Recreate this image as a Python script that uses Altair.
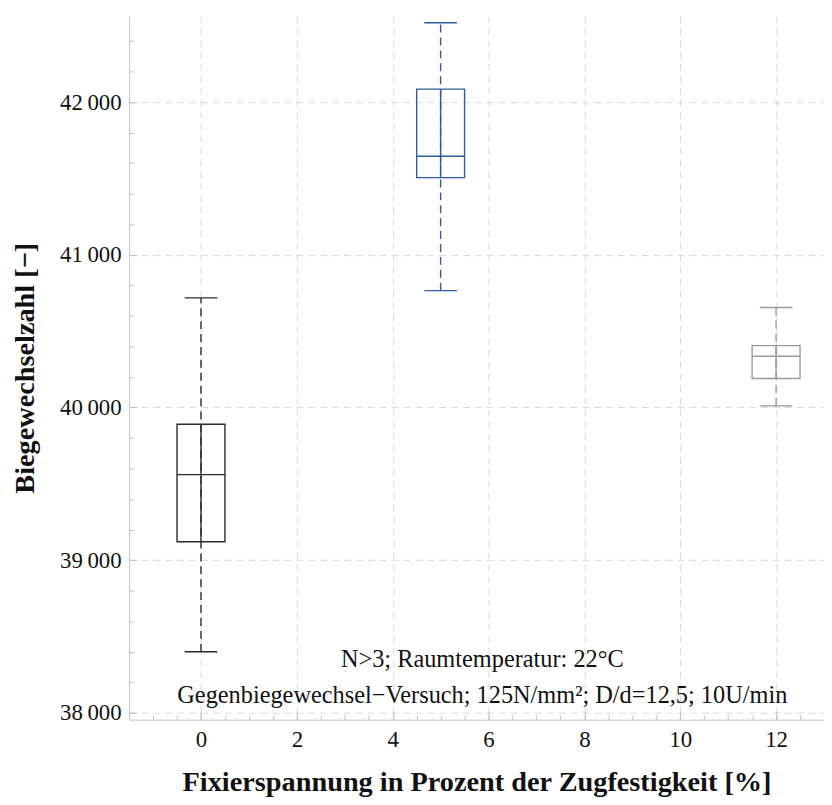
import altair as alt
import pandas as pd

# ---- data ----
groups = ["0 %", "5 %", "12 %"]
positions = [0, 5, 12]
whisker_low = [38400, 40765, 40010]
quartile_1 = [39120, 41505, 40190]
medians = [39560, 41645, 40335]
quartile_3 = [39890, 42085, 40405]
whisker_high = [40718, 42520, 40655]
box_colors = ["#2b2b2b", "#2f5d9a", "#9a9a9a"]

note_lines = ["N>3; Raumtemperatur: 22°C",
              "Gegenbiegewechsel\u2212Versuch; 125N/mm²; D/d=12,5; 10U/min"]
note_x = [5.87, 5.87]
note_y = [38345, 38110]

x_major = [0, 2, 4, 6, 8, 10, 12]
x_minor = [-1.0, -0.5, 0, 0.5, 1.0, 1.5, 2, 2.5, 3, 3.5, 4, 4.5, 5, 5.5, 6, 6.5,
           7, 7.5, 8, 8.5, 9, 9.5, 10, 10.5, 11, 11.5, 12, 12.5, 13]
y_major = [38000, 39000, 40000, 41000, 42000]
y_minor = [38000, 38200, 38400, 38600, 38800, 39000, 39200, 39400, 39600, 39800,
           40000, 40200, 40400, 40600, 40800, 41000, 41200, 41400, 41600, 41800,
           42000, 42200, 42400]

HALF_BOX = 0.5
HALF_CAP = 0.34

df = pd.DataFrame({
    "group": groups, "pos": positions, "lo": whisker_low, "q1": quartile_1,
    "med": medians, "q3": quartile_3, "hi": whisker_high,
})
df["left"] = df["pos"] - HALF_BOX
df["right"] = df["pos"] + HALF_BOX
df["capl"] = df["pos"] - HALF_CAP
df["capr"] = df["pos"] + HALF_CAP

notes = pd.DataFrame({"text": note_lines, "x": note_x, "y": note_y})

FONT = "Liberation Serif"
AXIS_GREY = "#c4c4c4"
xscale = alt.Scale(domain=[-1.5, 13.0], nice=False, zero=False)
yscale = alt.Scale(domain=[37955, 42565], nice=False, zero=False)
color = alt.Color("group:N", scale=alt.Scale(domain=groups, range=box_colors), legend=None)

main_x = alt.Axis(orient="bottom", values=x_major, grid=True, gridDash=[7, 5],
                  gridColor="#dadada", ticks=False, domainColor=AXIS_GREY,
                  labelFont=FONT, labelFontSize=23, labelColor="#111",
                  labelPadding=9, labelFlush=False,
                  title="Fixierspannung in Prozent der Zugfestigkeit [%]",
                  titleFont=FONT, titleFontSize=28.5, titleFontWeight="bold",
                  titleColor="#111", titlePadding=16)
main_y = alt.Axis(orient="left", values=y_major, grid=True, gridDash=[7, 5],
                  gridColor="#dadada", ticks=False, domainColor=AXIS_GREY,
                  labelExpr="replace(format(datum.value, ','), ',', '\u2009')",
                  labelFont=FONT, labelFontSize=23, labelColor="#111",
                  labelPadding=8, labelFlush=False,
                  title="Biegewechselzahl [\u2212]",
                  titleFont=FONT, titleFontSize=28.5, titleFontWeight="bold",
                  titleColor="#111", titlePadding=20)


def tick_axis(orient, values, size):
    return alt.Axis(orient=orient, values=values, grid=False, domain=False,
                    labels=False, title=None, ticks=True, tickSize=size,
                    tickColor=AXIS_GREY, tickWidth=1, offset=-size)


base = alt.Chart(df)

boxes = base.mark_rect(fill=None, strokeWidth=1.4, filled=False).encode(
    x=alt.X("left:Q", scale=xscale, axis=main_x),
    x2="right:Q",
    y=alt.Y("q1:Q", scale=yscale, axis=main_y),
    y2="q3:Q",
    stroke=alt.Stroke("group:N", scale=alt.Scale(domain=groups, range=box_colors), legend=None),
)

med = base.mark_rule(strokeWidth=1.4).encode(
    x=alt.X("left:Q", scale=xscale, axis=tick_axis("bottom", x_major, 8)),
    x2="right:Q",
    y=alt.Y("med:Q", scale=yscale, axis=tick_axis("left", y_major, 8)),
    color=color,
)

cap_hi = base.mark_rule(strokeWidth=1.4).encode(
    x=alt.X("capl:Q", scale=xscale, axis=tick_axis("bottom", x_minor, 5)),
    x2="capr:Q",
    y=alt.Y("hi:Q", scale=yscale, axis=tick_axis("left", y_minor, 5)),
    color=color,
)

cap_lo = base.mark_rule(strokeWidth=1.4).encode(
    x=alt.X("capl:Q", scale=xscale, axis=None),
    x2="capr:Q",
    y=alt.Y("lo:Q", scale=yscale, axis=None),
    color=color,
)

whisk = base.mark_rule(strokeWidth=1.4, strokeDash=[8, 5]).encode(
    x=alt.X("pos:Q", scale=xscale, axis=None),
    y=alt.Y("lo:Q", scale=yscale, axis=None),
    y2="hi:Q",
    color=color,
)

inner = base.mark_rule(strokeWidth=1.4).encode(
    x=alt.X("pos:Q", scale=xscale, axis=None),
    y=alt.Y("q1:Q", scale=yscale, axis=None),
    y2="q3:Q",
    color=color,
)

text = alt.Chart(notes).mark_text(font=FONT, fontSize=24.5, color="#111",
                                  baseline="middle", align="center").encode(
    x=alt.X("x:Q", scale=xscale, axis=None),
    y=alt.Y("y:Q", scale=yscale, axis=None),
    text="text:N",
)

chart = alt.layer(boxes, whisk, inner, med, cap_hi, cap_lo, text).resolve_axis(
    x="independent", y="independent"
).properties(
    width=700, height=709,
    autosize=alt.AutoSizeParams(type="none"),
    padding={"left": 122, "top": 5, "right": 0, "bottom": 75},
    background="white",
).configure_view(stroke=None)

chart.save("out.html", embed_options={"renderer": "svg", "actions": False})
